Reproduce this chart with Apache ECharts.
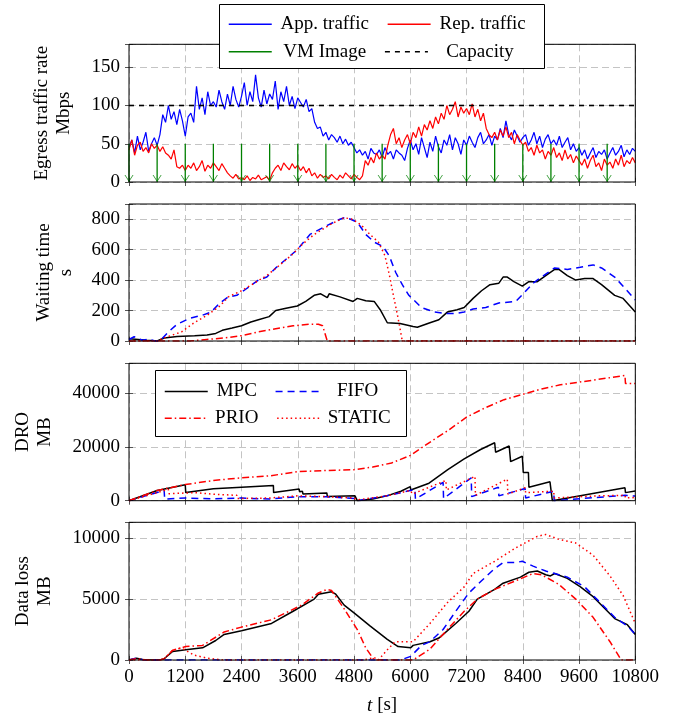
<!DOCTYPE html>
<html>
<head>
<meta charset="utf-8">
<script src="https://cdn.jsdelivr.net/npm/echarts@6/dist/echarts.min.js"></script>
<style>
  html, body { margin: 0; padding: 0; background: #fff; }
  #chart { width: 674px; height: 717px; }
</style>
</head>
<body>
<div id="chart"></div>
<script>
// ---- data ----
const tMax = 10800
const tStep = 1200
const trafficStep = 60 // s between samples of the traffic traces

const appTraffic = [
  45, 55, 38, 60, 42, 52, 65, 40, 50, 58, 48,
  62, 88, 78, 100, 82, 92, 75, 95, 80, 60,
  85, 90, 78, 125, 95, 110, 88, 118, 100, 105,
  98, 120, 105, 95, 115, 100, 125, 108, 98, 112,
  130, 100, 118, 105, 140, 110, 98, 120, 102, 115,
  108, 132, 95, 118, 105, 125, 100, 112, 96, 110,
  104, 98, 108, 92, 96, 78, 70, 72, 60, 65,
  55, 62, 58, 52, 60, 50, 56, 48, 52, 45,
  38, 42, 35, 40, 30, 44, 38, 36, 42, 32,
  45, 36, 40, 30, 42, 38, 35, 28, 44, 55,
  42, 50, 36, 58, 45, 32, 52, 40, 60, 46,
  38, 55, 48, 62, 42, 58, 50, 36, 55, 48,
  60, 52, 45, 58, 65, 50, 55, 62, 48, 60,
  55, 70, 58, 80, 62, 55, 68, 60, 52, 58,
  62, 48, 55, 65, 50, 60, 45, 56, 62, 50,
  55, 48, 60, 45, 52, 58, 42, 50, 40, 45,
  35, 42, 30, 38, 45, 32, 40, 36, 42, 30,
  38, 45, 35, 40, 48, 33, 42, 36, 44, 40
]
const repTraffic = [
  42, 55, 35, 48, 52, 40, 45, 38, 50, 44, 48,
  40, 46, 38, 35, 30, 42, 20, 18, 22, 15,
  22, 18, 25, 15, 20, 28, 14, 22, 18, 25,
  20, 15, 24, 18, 12, 8, 5, 10, 4, 6,
  3, 8, 2, 6, 4, 9, 3, 5, 7, 2,
  12, 18, 22, 15, 25, 20, 16, 24, 18, 22,
  15, 20, 12, 18, 8, 12, 5, 10, 6, 8,
  4, 10, 6, 3, 9, 5, 12, 8, 4, 10,
  6, 3, 8, 28, 22, 32, 25, 38, 30, 35,
  30, 48, 62, 70, 50, 58, 45, 55, 62, 50,
  65, 58, 72, 60, 75, 68, 80, 70, 85, 76,
  90, 82, 100, 88, 95, 105, 85, 98, 90, 96,
  88, 102, 85, 95, 80, 90, 70, 62, 58, 65,
  55, 68, 60, 72, 58, 65, 50, 62, 55, 48,
  52, 40, 45, 35, 48, 38, 42, 30, 40, 35,
  45, 32, 38, 28, 42, 30, 36, 25, 34, 28,
  22, 30, 18, 28, 35, 20, 25, 15, 30, 22,
  26, 18, 30, 22, 35, 20, 28, 24, 32, 25
]
const vmImageTimes = [0, 600, 1200, 1800, 2400, 3000, 3600, 4200, 4800, 5400,
  6000, 6600, 7200, 7800, 8400, 9000, 9600, 10200]
const vmImageRate = 50
const capacity = 100

// waiting time [s]
const waitMPC = [[0, 15], [200, 10], [380, 5], [600, 0], [750, 20], [1025, 30], [1400, 35],
  [1665, 40], [1850, 50], [1990, 70], [2200, 85], [2400, 100], [2600, 125], [2760, 140],
  [2990, 160], [3130, 200], [3350, 215], [3590, 230], [3770, 260], [3950, 300], [4090, 310],
  [4230, 285], [4270, 310], [4500, 290], [4780, 260], [4870, 280], [5050, 265], [5230, 260],
  [5370, 200], [5510, 120], [5780, 115], [6060, 95], [6150, 90], [6420, 120], [6610, 140],
  [6790, 190], [7000, 205], [7150, 220], [7340, 280], [7520, 330], [7700, 370], [7890, 380],
  [7980, 420], [8070, 420], [8210, 390], [8390, 360], [8530, 390], [8710, 390], [8890, 430],
  [9080, 470], [9170, 470], [9350, 430], [9530, 400], [9720, 410], [9900, 410], [10080, 370],
  [10360, 300], [10540, 280], [10800, 190]]
const waitFIFO = [[0, 10], [110, 28], [290, 5], [430, 12], [560, 0], [660, 0], [840, 60],
  [1025, 110], [1300, 150], [1570, 170], [1750, 190], [1940, 250], [2120, 290], [2300, 300],
  [2490, 340], [2760, 400], [2940, 420], [3130, 480], [3400, 550], [3590, 600], [3860, 700],
  [4230, 760], [4500, 800], [4590, 810], [4730, 800], [4870, 780], [5050, 700], [5230, 650],
  [5420, 620], [5550, 560], [5690, 450], [5830, 370], [5970, 300], [6240, 220], [6520, 190],
  [6790, 180], [6970, 180], [7150, 190], [7340, 210], [7610, 220], [7890, 250], [8250, 260],
  [8440, 320], [8620, 380], [8890, 440], [9080, 480], [9350, 470], [9720, 490], [9900, 500],
  [10080, 480], [10360, 420], [10540, 360], [10800, 270]]
const waitPRIO = [[0, 0], [1300, 0], [1660, 10], [2030, 20], [2400, 35], [2760, 60], [3130, 80],
  [3500, 100], [3860, 110], [4040, 110], [4130, 100], [4230, 0], [10800, 0]]
const waitSTATIC = [[0, 0], [600, 0], [750, 20], [1120, 60], [1390, 120], [1670, 170],
  [1940, 230], [2120, 290], [2400, 330], [2670, 380], [2940, 430], [3220, 500], [3490, 570],
  [3680, 630], [3950, 700], [4320, 770], [4590, 810], [4770, 800], [4960, 760], [5140, 700],
  [5320, 650], [5460, 560], [5550, 440], [5640, 300], [5740, 150], [5830, 0], [10800, 0]]

// DRO [MB]
const droMPC = [[0, 0], [600, 3800], [1200, 5900], [1210, 3000], [1800, 4400], [2400, 5000],
  [3080, 5600], [3085, 3000], [3630, 4300], [3640, 3300], [3700, 3500], [3710, 2500],
  [4220, 2900], [4230, 1600], [4820, 1800], [4870, 0], [5200, 600], [5500, 1800], [5800, 3500],
  [6000, 5200], [6010, 4000], [6400, 6500], [6800, 11500], [7150, 15500], [7500, 19000],
  [7800, 21500], [7820, 18000], [8110, 20300], [8140, 14500], [8390, 16500], [8410, 10500],
  [8520, 10500], [8530, 5000], [8980, 7000], [9030, 0], [10580, 4800], [10590, 3000],
  [10800, 3600]]
const droFIFO = [[0, 0], [750, 3800], [760, 600], [1200, 1000], [1800, 700], [2400, 1000],
  [3000, 600], [3600, 1500], [4200, 1500], [4800, 800], [4870, 0], [5500, 1800], [6100, 4200],
  [6110, 600], [6700, 6800], [6710, 800], [7300, 8500], [7310, 1500], [7880, 5000],
  [7890, 1800], [8450, 4500], [8460, 1000], [9060, 3500], [9070, 0], [10580, 2000],
  [10590, 1300], [10800, 1700]]
const droPRIO = [[0, 0], [600, 3800], [1200, 6000], [1800, 7500], [2400, 8500], [3000, 9200],
  [3600, 10800], [4200, 11200], [4800, 11500], [5200, 12500], [5600, 14000], [6000, 16800],
  [6400, 21500], [6800, 26000], [7200, 31000], [7600, 34500], [8000, 37500], [8400, 39500],
  [8800, 41500], [9200, 43000], [9600, 44000], [10000, 45000], [10580, 46500],
  [10590, 43500], [10800, 43500]]
const droSTATIC = [[0, 0], [840, 4200], [850, 2600], [1400, 3000], [1800, 2400], [2300, 2000],
  [2310, 800], [3000, 1000], [3600, 1800], [4200, 1500], [4800, 1000], [4870, 300],
  [5500, 1800], [6000, 3800], [6050, 2500], [6760, 7500], [6770, 4000], [7380, 9000],
  [7390, 2000], [8070, 8000], [8080, 2500], [8450, 4800], [8460, 3000], [9060, 3500],
  [9070, 1000], [10000, 1800], [10580, 2000], [10590, 1000], [10800, 1200]]

// data loss [MB]
const lossMPC = [[0, 0], [160, 150], [290, 50], [370, 0], [660, 0], [750, 100], [930, 700],
  [1210, 850], [1570, 1000], [1850, 1600], [2030, 2100], [2400, 2400], [3040, 3000],
  [3500, 4000], [3950, 5000], [4040, 5400], [4320, 5600], [4410, 5400], [4590, 4500],
  [4820, 3800], [5140, 2800], [5510, 1700], [5740, 1100], [6010, 1000], [6060, 1200],
  [6420, 1500], [6610, 1800], [6970, 3000], [7250, 4000], [7430, 5000], [7800, 5800],
  [7980, 6300], [8350, 6800], [8530, 7200], [8710, 7300], [8890, 7000], [8990, 6900],
  [9080, 7100], [9350, 6700], [9630, 6000], [9900, 5200], [10080, 4500], [10360, 3400],
  [10630, 2900], [10800, 2100]]
const lossFIFO = [[0, 0], [160, 150], [290, 30], [370, 0], [5790, 0], [6010, 300], [6240, 1200],
  [6420, 1500], [6700, 2500], [6970, 4000], [7250, 5500], [7520, 6500], [7800, 7500],
  [7980, 8000], [8250, 8000], [8390, 8100], [8620, 7700], [8890, 7300], [9170, 7000],
  [9350, 6800], [9720, 6000], [10080, 4600], [10360, 3500], [10630, 2800], [10800, 2100]]
const lossPRIO = [[0, 0], [160, 120], [290, 40], [370, 0], [660, 0], [750, 100], [930, 800],
  [1210, 1100], [1570, 1200], [2030, 2300], [2400, 2700], [3040, 3300], [3680, 4500],
  [4040, 5500], [4230, 5800], [4320, 5700], [4590, 4200], [4870, 2500], [5050, 1000],
  [5230, 0], [6060, 0], [6420, 900], [6790, 2500], [7150, 4000], [7430, 5000], [7800, 5800],
  [8250, 6500], [8620, 7100], [8800, 7000], [9170, 6200], [9530, 5000], [9900, 3500],
  [10260, 1500], [10500, 0], [10800, 0]]
const lossSTATIC = [[0, 0], [660, 0], [750, 100], [930, 800], [1120, 1000], [1210, 800],
  [1390, 400], [1670, 150], [2030, 0], [5000, 0], [5230, 200], [5320, 0], [5500, 800],
  [5680, 1500], [5950, 1500], [6060, 1500], [6420, 3000], [6790, 4700], [7150, 6000],
  [7340, 7100], [7800, 8100], [8250, 9200], [8710, 10150], [8890, 10300], [9170, 9900],
  [9530, 9600], [9900, 8600], [10260, 6900], [10540, 5300], [10800, 3000]]

// ---- chart ----
const font = 'Liberation Serif'
const blue = '#0000ff'
const red = '#ff0000'
const green = '#008000'

const panels = [
  { top: 44.3, height: 137.7, max: 180, interval: 50, name: 'Egress traffic rate\nMbps', nameGap: 54 },
  { top: 204, height: 137, max: 900, interval: 200, name: 'Waiting time\ns', nameGap: 52 },
  { top: 363.3, height: 137.4, max: 51000, interval: 20000, name: 'DRO\nMB', nameGap: 73 },
  { top: 522.3, height: 137.7, max: 11300, interval: 5000, name: 'Data loss\nMB', nameGap: 73 }
]

const tickStyle = { inside: true, length: 4, lineStyle: { color: '#555', width: 1 } }
const gridLine = { show: true, lineStyle: { color: '#c4c4c4', type: [7, 4], width: 1 } }
const labelText = { fontFamily: font, fontSize: 19, color: '#000' }

const grid = []
const xAxis = []
const yAxis = []
panels.forEach((p, i) => {
  // z above the split lines so the black frame is not overdrawn by dashed grid lines
  grid.push({ left: 129, width: 506.3, top: p.top, height: p.height, show: true, z: 5,
    borderColor: '#000', borderWidth: 1, backgroundColor: 'transparent' })
  const last = i === panels.length - 1
  xAxis.push({
    type: 'value', gridIndex: i, min: 0, max: tMax, interval: tStep, position: 'bottom',
    axisLine: { show: false }, axisTick: tickStyle, splitLine: gridLine,
    axisLabel: { show: last, margin: 8, ...labelText, formatter: v => String(v) },
    name: last ? '{it|t} [s]' : '', nameLocation: 'middle', nameGap: 36,
    nameTextStyle: { ...labelText, rich: { it: { ...labelText, fontStyle: 'italic' } } }
  })
  xAxis.push({
    type: 'value', gridIndex: i, min: 0, max: tMax, interval: tStep, position: 'top',
    axisLine: { show: false }, axisTick: tickStyle, splitLine: { show: false },
    axisLabel: { show: false }
  })
  yAxis.push({
    type: 'value', gridIndex: i, min: 0, max: p.max, interval: p.interval, position: 'left',
    axisLine: { show: false }, axisTick: tickStyle, splitLine: gridLine,
    axisLabel: { margin: 9, ...labelText, formatter: v => (v % p.interval === 0 ? String(v) : '') },
    name: p.name, nameLocation: 'middle', nameRotate: 90, nameGap: p.nameGap,
    nameTextStyle: { ...labelText, lineHeight: 22, align: 'center' }
  })
  yAxis.push({
    type: 'value', gridIndex: i, min: 0, max: p.max, interval: p.interval, position: 'right',
    axisLine: { show: false }, axisTick: tickStyle, splitLine: { show: false },
    axisLabel: { show: false }
  })
})

function line(name, panel, data, color, type, width) {
  return {
    name, type: 'line', xAxisIndex: panel * 2, yAxisIndex: panel * 2, data,
    symbol: 'none', color, lineStyle: { color, type: type || 'solid', width: width || 1.5 },
    silent: true
  }
}

// VM image transfers: vertical segments from 50 down to 0, broken with '-'
const vmLines = []
vmImageTimes.forEach(t => { vmLines.push([t, vmImageRate], [t, 0], [t, '-']) })

const dash = [7, 5]
const dashDot = [7, 3, 1.5, 3]
const dots = [1.5, 3]

const series = [
  line('App. traffic', 0, appTraffic.map((v, i) => [i * trafficStep, v]), blue, 'solid', 1.2),
  line('Rep. traffic', 0, repTraffic.map((v, i) => [i * trafficStep, v]), red, 'solid', 1.2),
  line('VM Image', 0, vmLines, green, 'solid', 1.3),
  {
    name: 'VM arrows', type: 'scatter', xAxisIndex: 0, yAxisIndex: 0, silent: true,
    data: vmImageTimes.map(t => [t, 0]),
    symbol: 'path://M0,0 L5,7 L10,0 L9,0 L5,5.4 L1,0 Z', symbolSize: [9, 7], symbolOffset: [0, -3.5],
    itemStyle: { color: green }, z: 3
  },
  line('Capacity', 0, [[0, capacity], [tMax, capacity]], '#000', [5, 5], 1.6),

  line('MPC', 1, waitMPC, '#000'),
  line('FIFO', 1, waitFIFO, blue, dash),
  line('PRIO', 1, waitPRIO, red, dashDot),
  line('STATIC', 1, waitSTATIC, red, dots),

  line('MPC', 2, droMPC, '#000'),
  line('FIFO', 2, droFIFO, blue, dash),
  line('PRIO', 2, droPRIO, red, dashDot),
  line('STATIC', 2, droSTATIC, red, dots),

  line('MPC', 3, lossMPC, '#000'),
  line('FIFO', 3, lossFIFO, blue, dash),
  line('PRIO', 3, lossPRIO, red, dashDot),
  line('STATIC', 3, lossSTATIC, red, dots)
]

// legend rows, text centered in fixed-width cells; the symbol dot is hidden, only the line stays
function legendRow(names, left, top, widths) {
  const rich = {}
  widths.forEach((w, k) => { rich['c' + k] = { ...labelText, width: w, align: 'center' } })
  return {
    data: names, left, top, orient: 'horizontal', padding: 0,
    itemWidth: 43, itemHeight: 14, itemGap: 18, selectedMode: false, z: 20,
    lineStyle: { width: 1.5 },
    itemStyle: { opacity: 0, borderWidth: 0 },
    formatter: name => '{c' + names.indexOf(name) + '|' + name + '}',
    textStyle: { ...labelText, rich }
  }
}

const legend = [
  legendRow(['App. traffic', 'Rep. traffic'], 228, 14.7, [96, 94]),
  legendRow(['VM Image', 'Capacity'], 228, 42.3, [96, 94]),
  legendRow(['MPC', 'FIFO'], 164, 382, [48, 68]),
  legendRow(['PRIO', 'STATIC'], 164, 408.7, [48, 68])
]

const boxStyle = { fill: '#fff', stroke: '#000', lineWidth: 1 }
const graphic = [
  { type: 'rect', shape: { x: 219.5, y: 4.5, width: 325, height: 64 }, style: boxStyle, z: 10 },
  { type: 'rect', shape: { x: 155.5, y: 370.5, width: 251, height: 66 }, style: boxStyle, z: 10 }
]

const chart = echarts.init(document.getElementById('chart'))
chart.setOption({
  animation: false,
  backgroundColor: '#fff',
  grid, xAxis, yAxis, series, legend, graphic
})
</script>
</body>
</html>
